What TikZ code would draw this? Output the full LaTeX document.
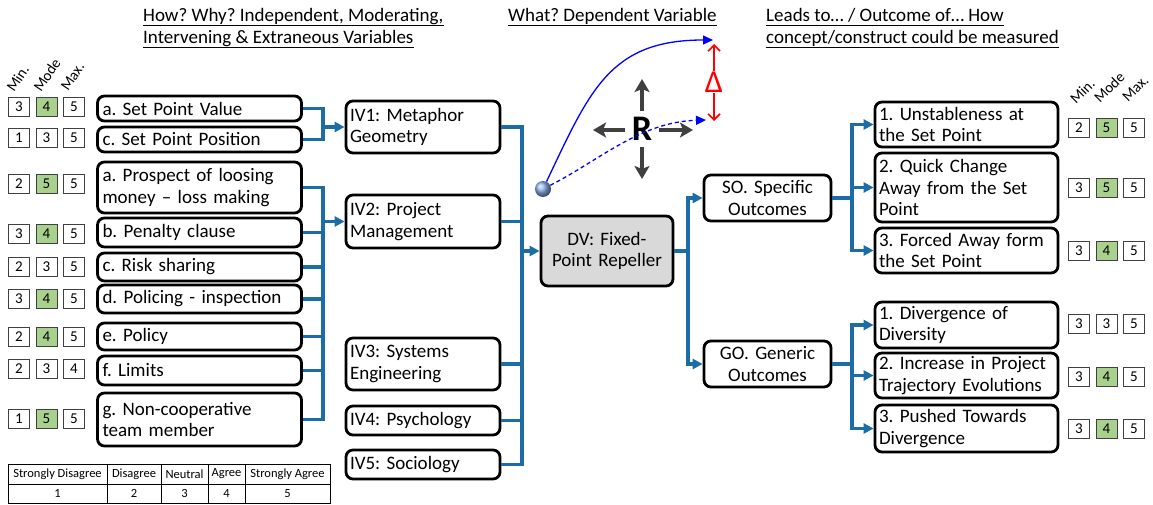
\documentclass[tikz,border=0pt]{standalone}
\usepackage{fontspec}
\setmainfont{Carlito}
\usetikzlibrary{arrows.meta,shadings}
\frenchspacing

\definecolor{linkblue}{RGB}{28,108,168}
\definecolor{modegreen}{RGB}{169,209,142}
\definecolor{dvgray}{RGB}{217,217,217}
\definecolor{arrowgray}{RGB}{64,64,64}
\definecolor{ballblue}{RGB}{140,175,235}

\tikzset{
  box/.style={draw=black, line width=2.8pt, rounded corners=7pt, inner ysep=0pt,
    font=\fontsize{19}{21.5}\selectfont},
  leftbox/.style={box, align=left, inner xsep=5pt, text width=194pt},
  ivbox/.style={box, align=left, inner xsep=4pt, text width=146pt},
  outbox/.style={box, align=left, inner xsep=4pt, text width=175pt},
  midbox/.style={box, align=center, inner xsep=4pt, text width=119pt},
  score/.style={draw=black!75, line width=0.9pt, minimum width=21pt, minimum height=19pt,
    inner sep=0pt, font=\fontsize{15}{15}\selectfont},
  scoreg/.style={score, fill=modegreen},
  rotlabel/.style={inner sep=0pt, anchor=base west, font=\fontsize{15}{15}\selectfont},
  header/.style={inner sep=0pt, anchor=base west, font=\fontsize{19}{22}\selectfont},
  uline/.style={draw=black, line width=0.9pt},
  cell/.style={draw=black, line width=1pt, inner sep=0pt, font=\fontsize{12.5}{13}\selectfont},
  link/.style={draw=linkblue, line width=3.1pt},
  linkarrow/.style={link, -{Triangle[length=10pt,width=10pt]}},
  grayarrow/.style={draw=arrowgray, line width=3.8pt, -{Stealth[length=13pt,width=15pt,inset=3pt]}},
  redarrow/.style={draw=red, line width=1.6pt, -{Straight Barb[length=6pt,width=12pt]}},
  bluecurve/.style={draw=blue, line width=1.3pt, -{Triangle[length=10pt,width=9pt]}}
}

% one row of Min. / Mode / Max. ratings
\newcommand{\scorerow}[7]{%
  \node[score] (#1-1) at (#2,#3) {#4};
  \node[#7, xshift=27.5pt] (#1-2) at (#2,#3) {#5};
  \node[score, xshift=55pt] (#1-3) at (#2,#3) {#6};
}

\begin{document}
\begin{tikzpicture}[x=1pt,y=-1pt]
\path[fill=white] (0,0) rectangle (1153,505);
\useasboundingbox (0,0) rectangle (1153,505);

% ---- column headings
\node[header] (hl1) at (143,22) {How? Why? Independent, Moderating,};
\node[header] (hl2) at (143,44) {Intervening \& Extraneous Variables};
\node[header] (hm1) at (508,22) {What? Dependent Variable};
\node[header] (hr1) at (766,22) {Leads to… / Outcome of… How};
\node[header] (hr2) at (766,44) {concept/construct could be measured};
\foreach \h in {hl1,hl2,hm1,hr1,hr2}
  \draw[uline] ([yshift=-3.5pt]\h.base west) -- ([yshift=-3.5pt]\h.base east);

% ---- rating column labels
\node[rotlabel, rotate=56] (lmin) at (14,93) {Min.};
\node[rotlabel, rotate=56] (lmode) at (41,93) {Mode};
\node[rotlabel, rotate=56] (lmax) at (68,92) {Max.};
\node[rotlabel, rotate=45] (rmin) at (1076,105) {Min.};
\node[rotlabel, rotate=45] (rmode) at (1100,104) {Mode};
\node[rotlabel, rotate=45] (rmax) at (1128,103) {Max.};

% ---- left factors
\node[leftbox, minimum height=25pt] (spv) at (199.5,108.5) {a. Set Point Value};
\node[leftbox, minimum height=25pt] (spp) at (199.5,139.5) {c. Set Point Position};
\node[leftbox, minimum height=51pt] (prosp) at (199.5,187.5) {a. Prospect of loosing\\money – loss making};
\node[leftbox, minimum height=29pt] (penal) at (199.5,232.5) {b. Penalty clause};
\node[leftbox, minimum height=28pt] (risk) at (199.5,267) {c. Risk sharing};
\node[leftbox, minimum height=28pt] (polic) at (199.5,299) {d. Policing - inspection};
\node[leftbox, minimum height=27pt] (polcy) at (199.5,336.5) {e. Policy};
\node[leftbox, minimum height=29pt] (limit) at (199.5,370.5) {f. Limits};
\node[leftbox, minimum height=53pt] (noncp) at (199.5,419.5) {g. Non-cooperative\\team member};

% ---- left ratings
\scorerow{s1}{19}{107}{3}{4}{5}{scoreg}
\scorerow{s2}{19}{138}{1}{3}{5}{score}
\scorerow{s3}{19}{184}{2}{5}{5}{scoreg}
\scorerow{s4}{19}{233.5}{3}{4}{5}{scoreg}
\scorerow{s5}{19}{266.5}{2}{3}{5}{score}
\scorerow{s6}{19}{299}{3}{4}{5}{scoreg}
\scorerow{s7}{19}{337}{2}{4}{5}{scoreg}
\scorerow{s8}{19}{369}{2}{3}{4}{score}
\scorerow{s9}{19}{419}{1}{5}{5}{scoreg}

% ---- independent variables
\node[ivbox, minimum height=52pt] (iv1) at (423,127) {IV1: Metaphor\\Geometry};
\node[ivbox, minimum height=53pt] (iv2) at (423,221.5) {IV2: Project\\Management};
\node[ivbox, minimum height=52pt] (iv3) at (423,364) {IV3: Systems\\Engineering};
\node[ivbox, minimum height=29pt] (iv4) at (423,420.5) {IV4: Psychology};
\node[ivbox, minimum height=29pt] (iv5) at (423,464.5) {IV5: Sociology};

% ---- dependent variable and outcome groups
\node[box, fill=dvgray, align=center, inner xsep=5pt, text width=122pt, minimum height=70pt] (dv) at (607,251) {DV: Fixed-\\Point Repeller};
\node[midbox, minimum height=46pt] (so) at (767.5,198) {SO. Specific\\Outcomes};
\node[midbox, minimum height=46pt] (go) at (767.5,364) {GO. Generic\\Outcomes};

% ---- outcomes
\node[outbox, minimum height=45pt] (so1) at (966.5,124.5) {1. Unstableness at\\the Set Point};
\node[outbox, minimum height=69pt] (so2) at (966.5,187.5) {2. Quick Change\\Away from the Set\\Point};
\node[outbox, minimum height=45pt] (so3) at (966.5,250.5) {3. Forced Away form\\the Set Point};
\node[outbox, minimum height=46pt] (go1) at (966.5,325) {1. Divergence of\\Diversity};
\node[outbox, minimum height=45pt] (go2) at (966.5,375.5) {2. Increase in Project\\Trajectory Evolutions};
\node[outbox, minimum height=47pt] (go3) at (966.5,428.5) {3. Pushed Towards\\Divergence};

% ---- right ratings
\scorerow{r1}{1079}{127.5}{2}{5}{5}{scoreg}
\scorerow{r2}{1079}{188}{3}{5}{5}{scoreg}
\scorerow{r3}{1079}{251}{3}{4}{5}{scoreg}
\scorerow{r4}{1079}{324}{3}{3}{5}{score}
\scorerow{r5}{1079}{376.5}{3}{4}{5}{scoreg}
\scorerow{r6}{1079}{429}{3}{4}{5}{scoreg}

% ---- connectors
\coordinate (j1) at (323,127);
\draw[link] (spv.east) -| (j1);
\draw[link] (spp.east) -| (j1);
\draw[linkarrow] (j1) -- (iv1.west);

\coordinate (j2) at (323,221.5);
\foreach \n in {prosp,penal,risk,polic,polcy,limit,noncp}
  \draw[link] (\n.east) -| (j2);
\draw[linkarrow, line width=3.8pt] (j2) -- (iv2.west);

\coordinate (j3) at (522,251);
\foreach \n in {iv1,iv2,iv3,iv4,iv5}
  \draw[link] (\n.east) -| (j3);
\draw[linkarrow] (j3) -- (dv.west);

\coordinate (j4) at (688,251);
\draw[link] (dv.east) -- (j4);
\draw[linkarrow] (j4) |- (so.west);
\draw[linkarrow] (j4) |- (go.west);

\coordinate (j5) at (852,198);
\draw[link] (so.east) -- (j5);
\foreach \n in {so1,so2,so3}
  \draw[linkarrow] (j5) |- (\n.west);

\coordinate (j6) at (852,364);
\draw[link] (go.east) -- (j6);
\foreach \n in {go1,go2,go3}
  \draw[linkarrow] (j6) |- (\n.west);

% ---- repeller sketch
\node[inner xsep=7pt, inner ysep=6pt, font=\fontsize{36}{36}\selectfont\bfseries] (R) at (642,129) {R};
\coordinate (rup) at (642,79);
\coordinate (rdown) at (642,179);
\coordinate (rleft) at (593,130);
\coordinate (rright) at (693,130);
\draw[grayarrow] (R.north) -- (rup);
\draw[grayarrow] (R.south) -- (rdown);
\draw[grayarrow] (R.west |- rleft) -- (rleft);
\draw[grayarrow] (R.east |- rright) -- (rright);

\node[circle, inner sep=0pt, minimum size=16pt, shading=ball, ball color=ballblue] (ball) at (543,189) {};
\coordinate (tipA) at (713,40);
\coordinate (tipB) at (706,120);
\draw[bluecurve] (ball) .. controls (590,90) and (610,40) .. (tipA);
\draw[bluecurve, dash pattern=on 4pt off 3pt] (ball) .. controls (600,160) and (640,122) .. (tipB);

\node[text=red, inner sep=1pt, font=\fontsize{32}{32}\selectfont] (delta) at (714,82) {Δ};
\coordinate (dup) at (714,44);
\coordinate (ddown) at (714,121);
\draw[redarrow] (delta.north) -- (dup);
\draw[redarrow] (delta.south) -- (ddown);

% ---- rating scale key
\node[cell, minimum width=99pt, minimum height=20pt] (k1) at (57.5,474) {Strongly Disagree};
\node[cell, minimum width=54pt, minimum height=20pt] (k2) at (134,474) {Disagree};
\node[cell, minimum width=47pt, minimum height=20pt] (k3) at (184.5,474) {Neutral};
\node[cell, minimum width=37pt, minimum height=20pt] (k4) at (226.5,474) {Agree};
\node[cell, minimum width=85pt, minimum height=20pt] (k5) at (287.5,474) {Strongly Agree};
\node[cell, minimum width=99pt, minimum height=19pt] (v1) at (57.5,493.5) {1};
\node[cell, minimum width=54pt, minimum height=19pt] (v2) at (134,493.5) {2};
\node[cell, minimum width=47pt, minimum height=19pt] (v3) at (184.5,493.5) {3};
\node[cell, minimum width=37pt, minimum height=19pt] (v4) at (226.5,493.5) {4};
\node[cell, minimum width=85pt, minimum height=19pt] (v5) at (287.5,493.5) {5};
\end{tikzpicture}
\end{document}
